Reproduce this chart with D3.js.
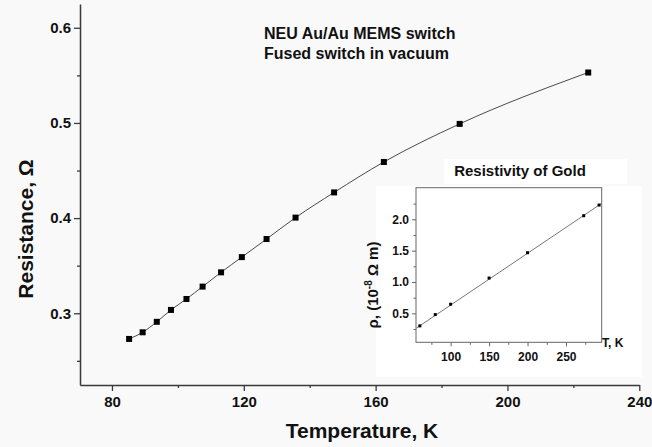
<!DOCTYPE html>
<html>
<head>
<meta charset="utf-8">
<script src="https://cdn.jsdelivr.net/npm/d3@7"></script>
<style>
  html, body { margin: 0; padding: 0; background: #f9f9f9; }
  svg { display: block; font-family: "Liberation Sans", Arial, sans-serif; }
</style>
</head>
<body>
<svg id="chart" width="652" height="447"></svg>
<script>
// ---- Main chart data ----
const temperatureK = [85.2, 89.3, 93.6, 97.9, 102.6, 107.5, 113.1, 119.4, 126.9, 135.7, 147.4, 162.5, 185.5, 224.5];
const resistanceOhm = [0.273, 0.280, 0.291, 0.3035, 0.315, 0.328, 0.343, 0.359, 0.378, 0.4005, 0.427, 0.459, 0.499, 0.553];
const xMajorTicks = [80, 120, 160, 200, 240];
const xMinorTicks = [100, 140, 180, 220];
const yMajorTicks = [0.3, 0.4, 0.5, 0.6];
const yMinorTicks = [0.25, 0.35, 0.45, 0.55];

// ---- Inset data ----
const insetT = [60, 80, 100, 150, 200, 273, 293];
const insetRho = [0.30, 0.48, 0.645, 1.063, 1.467, 2.057, 2.227];
const insetFitT = [55, 296.4];
const insetFitRho = [0.26, 2.254];
const insetXMajor = [100, 150, 200, 250];
const insetXMinor = [75, 125, 175, 225, 275];
const insetYMajor = [0.5, 1.0, 1.5, 2.0];
const insetYMinor = [0.25, 0.75, 1.25, 1.75, 2.25];

const svg = d3.select("#chart");
const axisColor = "#3a3a3a";

// main scales
const x = d3.scaleLinear().domain([70.3, 240]).range([80, 639.3]);
const y = d3.scaleLinear().domain([0.2246, 0.625]).range([385, 4]);

function styleAxis(g) {
  g.selectAll("path.domain").attr("stroke", axisColor).attr("stroke-width", 1.5);
  g.selectAll(".tick line").attr("stroke", axisColor).attr("stroke-width", 1.3);
}
const gy = svg.append("g").attr("transform", `translate(${x.range()[0]},0)`)
  .call(d3.axisLeft(y).tickValues(yMajorTicks).tickSize(6).tickSizeOuter(0).tickPadding(3).tickFormat(d3.format(".1f")));
styleAxis(gy);
gy.selectAll("text").attr("font-size", 15).attr("font-weight", "bold").attr("fill", "#111");
svg.append("g").attr("transform", `translate(${x.range()[0]},0)`)
  .call(d3.axisLeft(y).tickValues(yMinorTicks).tickSize(3).tickFormat(""))
  .call(g => { g.select("path.domain").remove(); g.selectAll(".tick line").attr("stroke", axisColor).attr("stroke-width", 1.3); });

const gx = svg.append("g").attr("transform", `translate(0,${y.range()[0]})`)
  .call(d3.axisBottom(x).tickValues(xMajorTicks).tickSize(6).tickSizeOuter(0).tickPadding(5).tickFormat(d3.format("d")));
styleAxis(gx);
gx.selectAll("text").attr("font-size", 15).attr("font-weight", "bold").attr("fill", "#111");
svg.append("g").attr("transform", `translate(0,${y.range()[0]})`)
  .call(d3.axisBottom(x).tickValues(xMinorTicks).tickSize(3).tickFormat(""))
  .call(g => { g.select("path.domain").remove(); g.selectAll(".tick line").attr("stroke", axisColor).attr("stroke-width", 1.3); });

// axis titles
svg.append("text").attr("x", 362).attr("y", 438).attr("text-anchor", "middle")
  .attr("font-size", 21).attr("font-weight", "bold").attr("fill", "#111").text("Temperature, K");
svg.append("text").attr("transform", "translate(33,229) rotate(-90)").attr("text-anchor", "middle")
  .attr("font-size", 21).attr("font-weight", "bold").attr("fill", "#111").text("Resistance, Ω");

// main annotation
const ann = svg.append("text").attr("font-size", 16).attr("font-weight", "bold").attr("fill", "#111");
ann.append("tspan").attr("x", 264).attr("y", 39).text("NEU Au/Au MEMS switch");
ann.append("tspan").attr("x", 264).attr("y", 59).text("Fused switch in vacuum");

// main line & markers
const mainData = temperatureK.map((t, i) => [t, resistanceOhm[i]]);
svg.append("path").datum(mainData)
  .attr("fill", "none").attr("stroke", "#4a4a4a").attr("stroke-width", 1)
  .attr("d", d3.line().x(d => x(d[0])).y(d => y(d[1])).curve(d3.curveMonotoneX));
svg.selectAll("rect.pt").data(mainData).enter().append("rect").attr("class", "pt")
  .attr("x", d => x(d[0]) - 3).attr("y", d => y(d[1]) - 3)
  .attr("width", 6).attr("height", 6).attr("fill", "#000");

// ---- Inset ----
const ix = d3.scaleLinear().domain([55, 296.4]).range([416, 601.7]);
const iy = d3.scaleLinear().domain([0.038, 2.504]).range([342.3, 187.7]);

svg.append("rect").attr("x", 376).attr("y", 186).attr("width", 266).attr("height", 191).attr("fill", "#ffffff");
svg.append("rect").attr("x", 444).attr("y", 159).attr("width", 183).attr("height", 25).attr("fill", "#ffffff");

svg.append("text").attr("x", 520).attr("y", 176).attr("text-anchor", "middle")
  .attr("font-size", 15).attr("font-weight", "bold").attr("fill", "#111").text("Resistivity of Gold");

const insetColor = "#666";
const giy = svg.append("g").attr("transform", `translate(${ix.range()[0]},0)`)
  .call(d3.axisLeft(iy).tickValues(insetYMajor).tickSize(4).tickSizeOuter(0).tickPadding(3).tickFormat(d3.format(".1f")));
giy.select("path.domain").remove();
giy.selectAll(".tick line").attr("stroke", insetColor);
giy.selectAll("text").attr("font-size", 12).attr("font-weight", "bold").attr("fill", "#111");
svg.append("g").attr("transform", `translate(${ix.range()[0]},0)`)
  .call(d3.axisLeft(iy).tickValues(insetYMinor).tickSize(2.5).tickFormat(""))
  .call(g => { g.select("path.domain").remove(); g.selectAll(".tick line").attr("stroke", insetColor); });

const gix = svg.append("g").attr("transform", `translate(0,${iy.range()[0]})`)
  .call(d3.axisBottom(ix).tickValues(insetXMajor).tickSize(4).tickSizeOuter(0).tickPadding(6).tickFormat(d3.format("d")));
gix.select("path.domain").remove();
gix.selectAll(".tick line").attr("stroke", insetColor);
gix.selectAll("text").attr("font-size", 12).attr("font-weight", "bold").attr("fill", "#111");
svg.append("g").attr("transform", `translate(0,${iy.range()[0]})`)
  .call(d3.axisBottom(ix).tickValues(insetXMinor).tickSize(2.5).tickFormat(""))
  .call(g => { g.select("path.domain").remove(); g.selectAll(".tick line").attr("stroke", insetColor); });

svg.append("rect").attr("x", ix.range()[0]).attr("y", iy.range()[1])
  .attr("width", ix.range()[1] - ix.range()[0]).attr("height", iy.range()[0] - iy.range()[1])
  .attr("fill", "none").attr("stroke", insetColor).attr("stroke-width", 1);

const fitData = insetFitT.map((t, i) => [t, insetFitRho[i]]);
svg.append("path").datum(fitData).attr("fill", "none").attr("stroke", "#777").attr("stroke-width", 1)
  .attr("d", d3.line().x(d => ix(d[0])).y(d => iy(d[1])));
const insetData = insetT.map((t, i) => [t, insetRho[i]]);
svg.selectAll("rect.ipt").data(insetData).enter().append("rect").attr("class", "ipt")
  .attr("x", d => ix(d[0]) - 1.5).attr("y", d => iy(d[1]) - 1.5)
  .attr("width", 3).attr("height", 3).attr("fill", "#000");

svg.append("text").attr("x", 602).attr("y", 347).attr("font-size", 12).attr("font-weight", "bold")
  .attr("fill", "#111").text("T, K");
const yl = svg.append("text").attr("transform", "translate(378,285) rotate(-90)").attr("text-anchor", "middle")
  .attr("font-size", 15).attr("font-weight", "bold").attr("fill", "#111");
yl.append("tspan").text("ρ, (10");
yl.append("tspan").attr("font-size", 10).attr("dy", -6).text("-8");
yl.append("tspan").attr("dy", 6).text(" Ω m)");
</script>
</body>
</html>
